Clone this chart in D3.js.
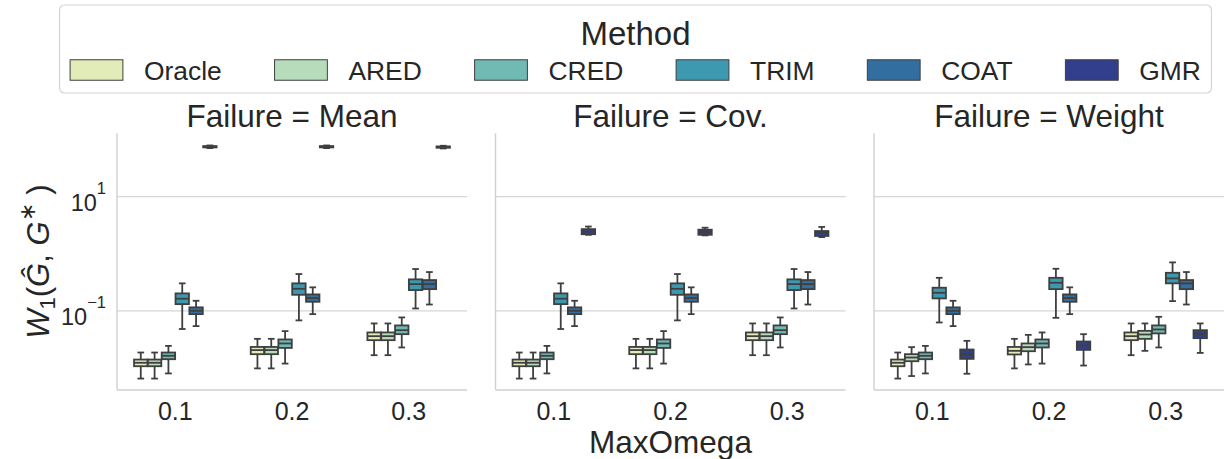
<!DOCTYPE html>
<html>
<head>
<meta charset="utf-8">
<script src="https://cdn.jsdelivr.net/npm/d3@7"></script>
<style>
  body { margin: 0; background: #fff; }
  svg { display: block; }
  text { font-family: "Liberation Sans", Arial, sans-serif; fill: #262626; }
</style>
</head>
<body>
<svg id="chart" width="1225" height="459"></svg>
<script>
// ---------- data (box = [whisker low, q1, median, q3, whisker high]) ----------
const failures = ['Mean', 'Cov.', 'Weight'];
const omegas = ['0.1', '0.2', '0.3'];
const methods = ['Oracle', 'ARED', 'CRED', 'TRIM', 'COAT', 'GMR'];
const methodColors = ['#e2ecb8', '#b6dcbb', '#71b9b3', '#3d99b0', '#336ea0', '#323f8c'];

const boxesMean = [
  [[0.0065, 0.0107, 0.0123, 0.0140, 0.0186], [0.0098, 0.0174, 0.0205, 0.0233, 0.0323], [0.0167, 0.0306, 0.0360, 0.0418, 0.0601]],
  [[0.0065, 0.0107, 0.0123, 0.0140, 0.0186], [0.0098, 0.0174, 0.0205, 0.0233, 0.0323], [0.0167, 0.0306, 0.0360, 0.0418, 0.0601]],
  [[0.0080, 0.0142, 0.0163, 0.0186, 0.0243], [0.0119, 0.0224, 0.0268, 0.0315, 0.0441], [0.0228, 0.0390, 0.0458, 0.0555, 0.0766]],
  [[0.048, 0.131, 0.163, 0.202, 0.303], [0.068, 0.191, 0.243, 0.303, 0.441], [0.110, 0.231, 0.294, 0.356, 0.540]],
  [[0.054, 0.0875, 0.100, 0.115, 0.150], [0.0875, 0.144, 0.167, 0.194, 0.258], [0.129, 0.240, 0.294, 0.346, 0.478]],
  [[71, 73, 75, 77, 79], [71, 73, 75, 77, 79], [70, 72, 74, 76, 78]]
];
const boxesCov = [
  [[0.0065, 0.0107, 0.0123, 0.0140, 0.0186], [0.0098, 0.0174, 0.0205, 0.0233, 0.0323], [0.0167, 0.0306, 0.0360, 0.0418, 0.0601]],
  [[0.0065, 0.0107, 0.0123, 0.0140, 0.0186], [0.0098, 0.0174, 0.0205, 0.0233, 0.0323], [0.0167, 0.0306, 0.0360, 0.0418, 0.0601]],
  [[0.0080, 0.0142, 0.0163, 0.0186, 0.0243], [0.0119, 0.0224, 0.0268, 0.0315, 0.0441], [0.0228, 0.0390, 0.0458, 0.0555, 0.0766]],
  [[0.048, 0.131, 0.163, 0.202, 0.303], [0.068, 0.191, 0.243, 0.303, 0.441], [0.110, 0.231, 0.294, 0.356, 0.540]],
  [[0.054, 0.0875, 0.100, 0.115, 0.150], [0.0875, 0.144, 0.167, 0.194, 0.258], [0.129, 0.240, 0.294, 0.346, 0.478]],
  [[2.15, 2.2, 2.45, 2.7, 3.0], [2.1, 2.15, 2.4, 2.64, 2.86], [1.96, 2.05, 2.31, 2.5, 2.95]]
];
const boxesWeight = [
  [[0.0065, 0.0107, 0.0123, 0.0140, 0.0186], [0.0098, 0.0172, 0.0199, 0.0233, 0.0323], [0.0167, 0.0306, 0.0360, 0.0418, 0.0601]],
  [[0.0072, 0.0131, 0.0152, 0.0174, 0.0231], [0.0115, 0.0196, 0.0231, 0.0268, 0.0379], [0.0199, 0.0323, 0.0385, 0.0446, 0.0601]],
  [[0.0080, 0.0142, 0.0163, 0.0186, 0.0243], [0.0119, 0.0228, 0.0268, 0.0315, 0.0418], [0.0228, 0.0402, 0.0472, 0.0555, 0.0785]],
  [[0.0625, 0.165, 0.207, 0.254, 0.379], [0.0754, 0.240, 0.310, 0.379, 0.546], [0.148, 0.303, 0.370, 0.464, 0.706]],
  [[0.054, 0.0875, 0.100, 0.115, 0.150], [0.0875, 0.144, 0.167, 0.194, 0.258], [0.129, 0.240, 0.303, 0.346, 0.478]],
  [[0.0079, 0.0144, 0.0174, 0.0210, 0.0298], [0.0110, 0.0207, 0.0247, 0.0290, 0.0390], [0.0183, 0.0332, 0.0390, 0.0458, 0.0601]]
];
const panelBoxes = [boxesMean, boxesCov, boxesWeight];

const yTicks = [0.1, 10];
const yTickExp = ['\u22121', '1'];
const yDomain = [0.0041, 129];

// ---------- layout ----------
const svg = d3.select('#chart');
const panelLeft = 117, panelW = 350, panelGap = 28.5;
const plotTop = 133.3, plotBottom = 390;
const lineCol = '#3f3f3f';
const gridCol = '#d6d6d6';
const lw = 1.8;

const y = d3.scaleLog().domain(yDomain).range([plotBottom, plotTop]);

failures.forEach((failure, p) => {
  const x0 = panelLeft + p * (panelW + panelGap);
  const g = svg.append('g').attr('transform', `translate(${x0},0)`);

  const x = d3.scaleBand().domain(omegas).range([0, panelW]);
  const dodge = x.bandwidth() * 0.711;
  const sub = d3.scaleBand().domain(methods).range([-dodge / 2, dodge / 2]);
  const boxW = sub.bandwidth() * 0.97;

  // grid
  g.selectAll('line.grid')
    .data(yTicks)
    .join('line')
    .attr('x1', 0).attr('x2', panelW)
    .attr('y1', d => y(d)).attr('y2', d => y(d))
    .attr('stroke', gridCol).attr('stroke-width', 1.3);

  // spines
  g.append('line').attr('x1', 0).attr('x2', 0).attr('y1', plotTop).attr('y2', plotBottom)
    .attr('stroke', '#d0d0d0').attr('stroke-width', 1.4);
  g.append('line').attr('x1', 0).attr('x2', panelW).attr('y1', plotBottom).attr('y2', plotBottom)
    .attr('stroke', '#d0d0d0').attr('stroke-width', 1.4);

  // x axis labels
  const xAxis = g.append('g')
    .attr('transform', `translate(0,${plotBottom})`)
    .call(d3.axisBottom(x).tickSize(0).tickPadding(12));
  xAxis.select('.domain').remove();
  xAxis.selectAll('text')
    .attr('font-size', 25)
    .attr('font-family', '"Liberation Sans", Arial, sans-serif')
    .attr('fill', '#262626');

  // y axis labels (first panel only)
  if (p === 0) {
    const yAxis = g.append('g')
      .call(d3.axisLeft(y).tickValues(yTicks).tickSize(0).tickPadding(11).tickFormat(() => ''));
    yAxis.select('.domain').remove();
    yAxis.selectAll('.tick text').each(function (d, i) {
      const t = d3.select(this)
        .attr('font-size', 23.5)
        .attr('font-family', '"Liberation Sans", Arial, sans-serif')
        .attr('fill', '#262626')
        .attr('dy', '0.6em');
      t.append('tspan').text('10');
      t.append('tspan').attr('font-size', 16.5).attr('dy', -17).text(yTickExp[i]);
    });
  }

  // boxes
  methods.forEach((m, mi) => {
    const color = methodColors[mi];
    omegas.forEach((o, oi) => {
      const [lo, q1, med, q3, hi] = panelBoxes[p][mi][oi];
      const cx = x(o) + x.bandwidth() / 2 + sub(m) + sub.bandwidth() / 2;
      const bg = g.append('g');
      bg.append('line').attr('x1', cx).attr('x2', cx).attr('y1', y(lo)).attr('y2', y(q1))
        .attr('stroke', lineCol).attr('stroke-width', lw);
      bg.append('line').attr('x1', cx).attr('x2', cx).attr('y1', y(q3)).attr('y2', y(hi))
        .attr('stroke', lineCol).attr('stroke-width', lw);
      [lo, hi].forEach(v => {
        bg.append('line')
          .attr('x1', cx - boxW / 4).attr('x2', cx + boxW / 4)
          .attr('y1', y(v)).attr('y2', y(v))
          .attr('stroke', lineCol).attr('stroke-width', lw);
      });
      bg.append('rect')
        .attr('x', cx - boxW / 2).attr('width', boxW)
        .attr('y', y(q3)).attr('height', Math.max(0.5, y(q1) - y(q3)))
        .attr('fill', color)
        .attr('stroke', lineCol).attr('stroke-width', lw);
      bg.append('line')
        .attr('x1', cx - boxW / 2).attr('x2', cx + boxW / 2)
        .attr('y1', y(med)).attr('y2', y(med))
        .attr('stroke', lineCol).attr('stroke-width', lw);
    });
  });

  // panel title
  g.append('text')
    .attr('x', panelW / 2).attr('y', 127)
    .attr('text-anchor', 'middle')
    .attr('font-size', 31.5)
    .text(`Failure = ${failure}`);
});

// x axis title
const plotsRight = panelLeft + 3 * panelW + 2 * panelGap;
svg.append('text')
  .attr('x', (panelLeft + plotsRight) / 2).attr('y', 453)
  .attr('text-anchor', 'middle')
  .attr('font-size', 31.5)
  .text('MaxOmega');

// y axis title: W_1(Ĝ, G*)
const yl = svg.append('text')
  .attr('transform', `translate(49,${(plotTop + plotBottom) / 2}) rotate(-90)`)
  .attr('text-anchor', 'middle')
  .attr('font-family', '"DejaVu Sans", sans-serif')
  .attr('font-size', 31);
yl.append('tspan').attr('font-style', 'italic').text('W');
yl.append('tspan').attr('font-size', 22).attr('dy', 6).text('1');
yl.append('tspan').attr('dy', -6).text('(');
yl.append('tspan').attr('font-style', 'italic').text('\u011C');
yl.append('tspan').text(', ');
yl.append('tspan').attr('font-style', 'italic').text('G');
yl.append('tspan').attr('font-size', 22).attr('dy', -14).text('\u2217');
yl.append('tspan').attr('dy', 14).text(' )');

// ---------- legend ----------
const F = 26.4;
const legend = svg.append('g');
const frame = legend.append('rect');
const title = legend.append('text')
  .attr('y', 45)
  .attr('text-anchor', 'middle')
  .attr('font-size', 33)
  .text('Method');

let cursor = 0;
const rowY = 70;
methods.forEach((m, i) => {
  legend.append('rect')
    .attr('x', cursor).attr('y', rowY - 0.7 * F / 2 - 1)
    .attr('width', 2 * F).attr('height', 0.7 * F + 2)
    .attr('fill', methodColors[i])
    .attr('stroke', lineCol).attr('stroke-width', 1);
  cursor += 2.8 * F;
  const t = legend.append('text')
    .attr('x', cursor).attr('y', rowY + 9.5)
    .attr('font-size', F)
    .text(m);
  cursor += t.node().getComputedTextLength();
  if (i < methods.length - 1) cursor += 2 * F;
});
const legendCenter = 635.5;
const startX = legendCenter - cursor / 2;
legend.selectAll('rect:not(:first-child), text').attr('transform', `translate(${startX},0)`);
title.attr('transform', null).attr('x', legendCenter);
const pad = 0.4 * F;
frame
  .attr('x', startX - pad).attr('y', 5)
  .attr('width', cursor + 2 * pad).attr('height', 88)
  .attr('rx', 5)
  .attr('fill', '#fff')
  .attr('stroke', '#d4d4d4').attr('stroke-width', 1.2);
</script>
</body>
</html>
